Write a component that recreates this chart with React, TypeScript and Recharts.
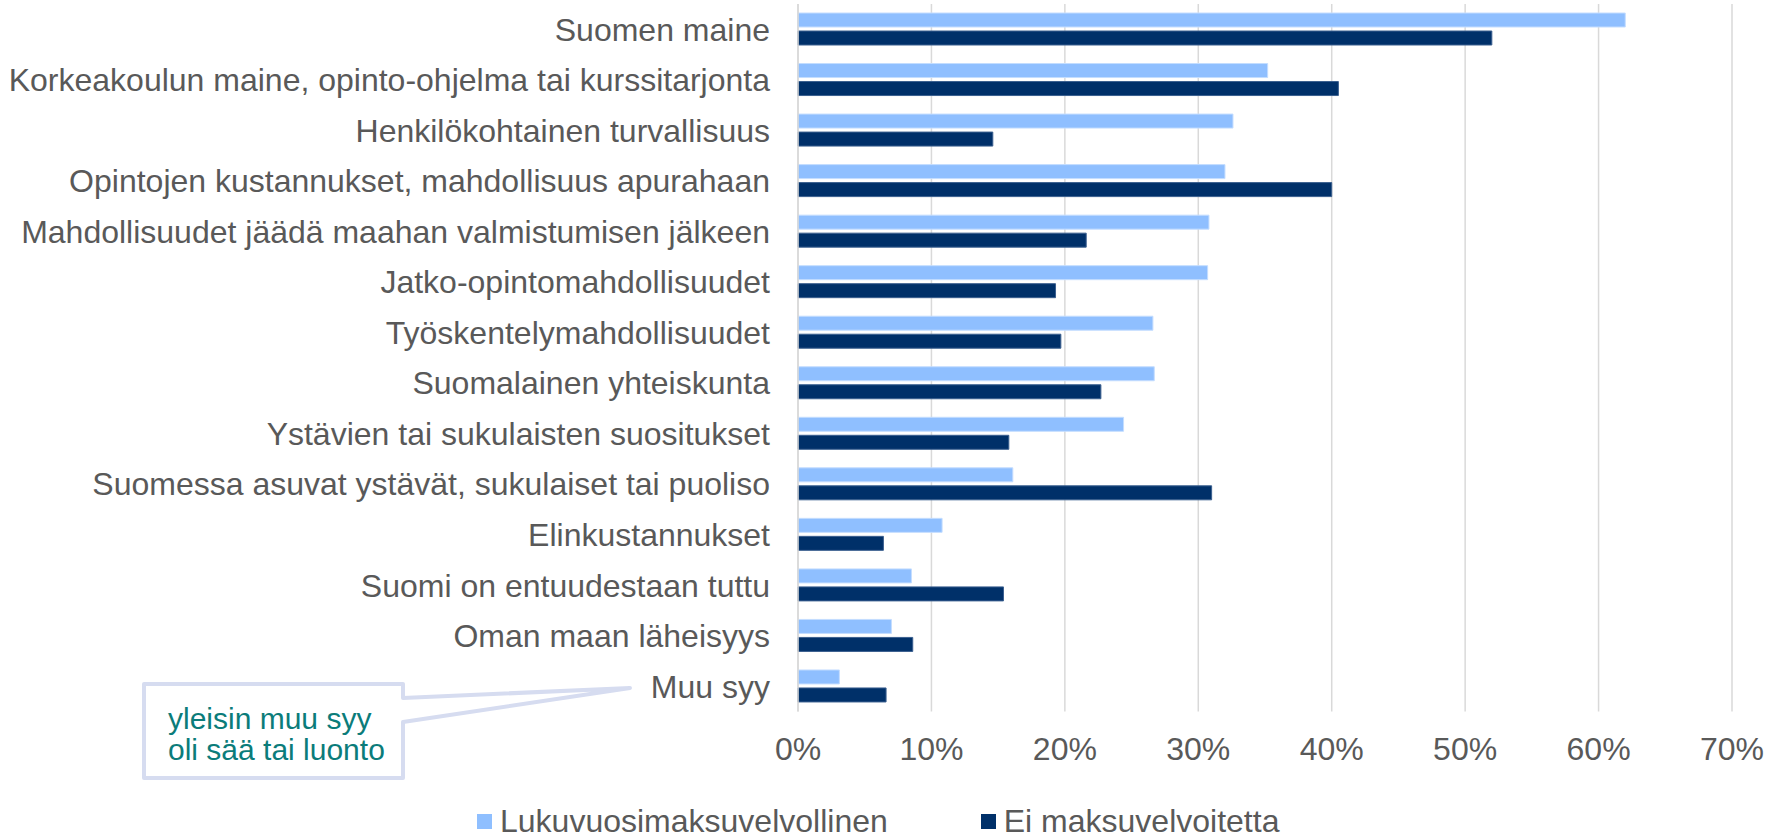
import React from "react";
import { BarChart, Bar, XAxis, YAxis, CartesianGrid } from "recharts";

const categories = [
  "Suomen maine",
  "Korkeakoulun maine, opinto-ohjelma tai kurssitarjonta",
  "Henkilökohtainen turvallisuus",
  "Opintojen kustannukset, mahdollisuus apurahaan",
  "Mahdollisuudet jäädä maahan valmistumisen jälkeen",
  "Jatko-opintomahdollisuudet",
  "Työskentelymahdollisuudet",
  "Suomalainen yhteiskunta",
  "Ystävien tai sukulaisten suositukset",
  "Suomessa asuvat ystävät, sukulaiset tai puoliso",
  "Elinkustannukset",
  "Suomi on entuudestaan tuttu",
  "Oman maan läheisyys",
  "Muu syy",
];

const feePaying = [62.0, 35.2, 32.6, 32.0, 30.8, 30.7, 26.6, 26.7, 24.4, 16.1, 10.8, 8.5, 7.0, 3.1];
const noFee = [52.0, 40.5, 14.6, 40.0, 21.6, 19.3, 19.7, 22.7, 15.8, 31.0, 6.4, 15.4, 8.6, 6.6];

const seriesNames = ["Lukuvuosimaksuvelvollinen", "Ei maksuvelvoitetta"];
const seriesColors = ["#8FBFFF", "#003069"];
const xTicks = [0, 10, 20, 30, 40, 50, 60, 70];

const calloutLines = ["yleisin muu syy", "oli sää tai luonto"];

const data = categories.map((name, i) => ({
  name,
  fee: feePaying[i],
  free: noFee[i],
}));

const FONT = "'Liberation Sans', Arial, sans-serif";
const TEXT = "#595959";

export default function App() {
  return (
    <div style={{ position: "absolute", left: 0, top: 0, width: 1781, height: 839, background: "#fff", fontFamily: FONT, overflow: "hidden" }}>
      <BarChart
        width={1781}
        height={839}
        data={data}
        layout="vertical"
        margin={{ top: 4, right: 49, left: 0, bottom: 67.5 }}
        barSize={14}
        barGap={4}
      >
        <CartesianGrid horizontal={false} stroke="#D9D9D9" strokeWidth={1.5} />
        <XAxis
          type="number"
          domain={[0, 70]}
          ticks={xTicks}
          tickFormatter={(v) => `${v}%`}
          axisLine={false}
          tickLine={false}
          tickSize={0}
          tickMargin={26}
          height={60}
          tick={{ fill: TEXT, fontSize: 32, fontFamily: FONT }}
        />
        <YAxis
          type="category"
          dataKey="name"
          width={798}
          axisLine={{ stroke: "#D9D9D9", strokeWidth: 1.5 }}
          tickLine={false}
          tickSize={0}
          tickMargin={28}
          interval={0}
          tick={{ fill: TEXT, fontSize: 32, fontFamily: FONT }}
        />
        <Bar dataKey="fee" name={seriesNames[0]} fill={seriesColors[0]} stroke="#C4DDFF" strokeWidth={1} isAnimationActive={false} />
        <Bar dataKey="free" name={seriesNames[1]} fill={seriesColors[1]} stroke="#3A5F8F" strokeWidth={1} isAnimationActive={false} />
      </BarChart>

      {/* legend */}
      <div style={{ position: "absolute", top: 806, left: 477, display: "flex", alignItems: "center", fontSize: 32, color: TEXT, lineHeight: "30px", height: 30 }}>
        {seriesNames.map((n, i) => (
          <div key={n} style={{ display: "flex", alignItems: "center", marginRight: i === 0 ? 93 : 0 }}>
            <span style={{ display: "inline-block", width: 15, height: 15, background: seriesColors[i], marginRight: 8 }} />
            <span>{n}</span>
          </div>
        ))}
      </div>

      {/* callout */}
      <svg width={1781} height={839} style={{ position: "absolute", left: 0, top: 0, pointerEvents: "none" }}>
        <path
          d="M144,684 L403,684 L403,698 L630,688 L403,722 L403,778 L144,778 Z"
          fill="#fff"
          stroke="#D6DCF0"
          strokeWidth={4}
          strokeLinejoin="round"
        />
        {calloutLines.map((t, i) => (
          <text key={t} x={168} y={729 + i * 31} fill="#0B7C7A" fontSize={30} fontFamily={FONT}>
            {t}
          </text>
        ))}
      </svg>
    </div>
  );
}
